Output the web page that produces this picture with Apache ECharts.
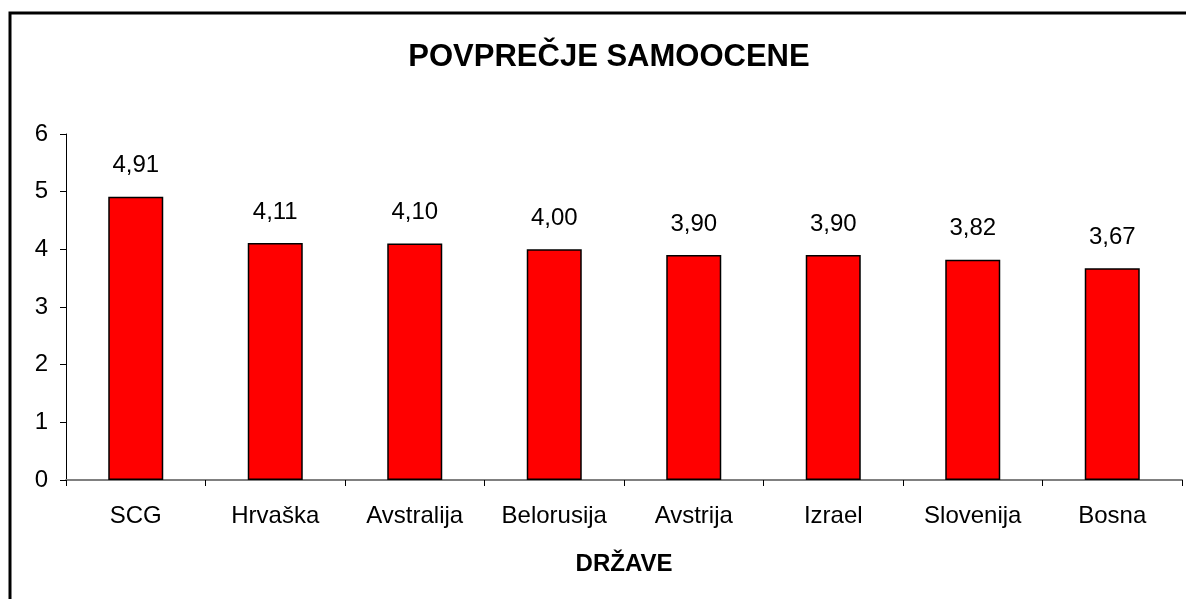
<!DOCTYPE html>
<html>
<head>
<meta charset="utf-8">
<script src="https://cdn.jsdelivr.net/npm/echarts@6/dist/echarts.min.js"></script>
<style>
  html, body { margin: 0; padding: 0; background: #fff; }
  #main-chart { width: 1186px; height: 599px; }
</style>
</head>
<body>
<div id="main-chart"></div>
<script>
// Podatki
const countries = ['SCG', 'Hrvaška', 'Avstralija', 'Belorusija', 'Avstrija', 'Izrael', 'Slovenija', 'Bosna'];
const averages = [4.91, 4.11, 4.10, 4.00, 3.90, 3.90, 3.82, 3.67];
const yTicks = [0, 1, 2, 3, 4, 5, 6];

const font = '"Liberation Sans", Arial, sans-serif';
const chartDom = document.getElementById('main-chart');
const myChart = echarts.init(chartDom);

const option = {
    backgroundColor: '#fff',
    animation: false,
    textStyle: { fontFamily: font },
    title: {
        text: 'POVPREČJE SAMOOCENE',
        left: 604,
        textAlign: 'center',
        top: 37,
        textStyle: { fontSize: 31, fontWeight: 'bold', color: '#000', fontFamily: font }
    },
    graphic: [{
        // okvir grafa (levo in zgoraj)
        type: 'rect',
        shape: { x: 10, y: 13, width: 1400, height: 800 },
        style: { fill: 'none', stroke: '#000', lineWidth: 3 },
        silent: true
    }],
    grid: { left: 66, right: 4, top: 134, bottom: 119 },
    xAxis: {
        type: 'category',
        data: countries,
        name: 'DRŽAVE',
        nameLocation: 'middle',
        nameGap: 72,
        nameTextStyle: { fontSize: 24, fontWeight: 'bold', color: '#000', fontFamily: font },
        axisLine: { lineStyle: { color: '#808080', width: 2 } },
        axisTick: { show: true, length: 6, lineStyle: { color: '#000', width: 1 } },
        axisLabel: { fontSize: 24, color: '#000', margin: 24, fontFamily: font }
    },
    yAxis: {
        type: 'value',
        min: yTicks[0],
        max: yTicks[yTicks.length - 1],
        interval: 1,
        axisLine: { show: true, lineStyle: { color: '#000', width: 1 } },
        axisTick: { show: true, length: 6, lineStyle: { color: '#000' } },
        axisLabel: { fontSize: 24, color: '#000', margin: 18, fontFamily: font },
        splitLine: { show: false }
    },
    series: [{
        type: 'bar',
        data: averages,
        barWidth: 55,
        itemStyle: { color: '#FF0000', borderColor: '#000', borderWidth: 1.5 },
        label: {
            show: true,
            position: 'top',
            distance: 19,
            fontSize: 24,
            color: '#000',
            fontFamily: font,
            formatter: p => p.value.toFixed(2).replace('.', ',')
        }
    }]
};

myChart.setOption(option);
</script>
</body>
</html>
